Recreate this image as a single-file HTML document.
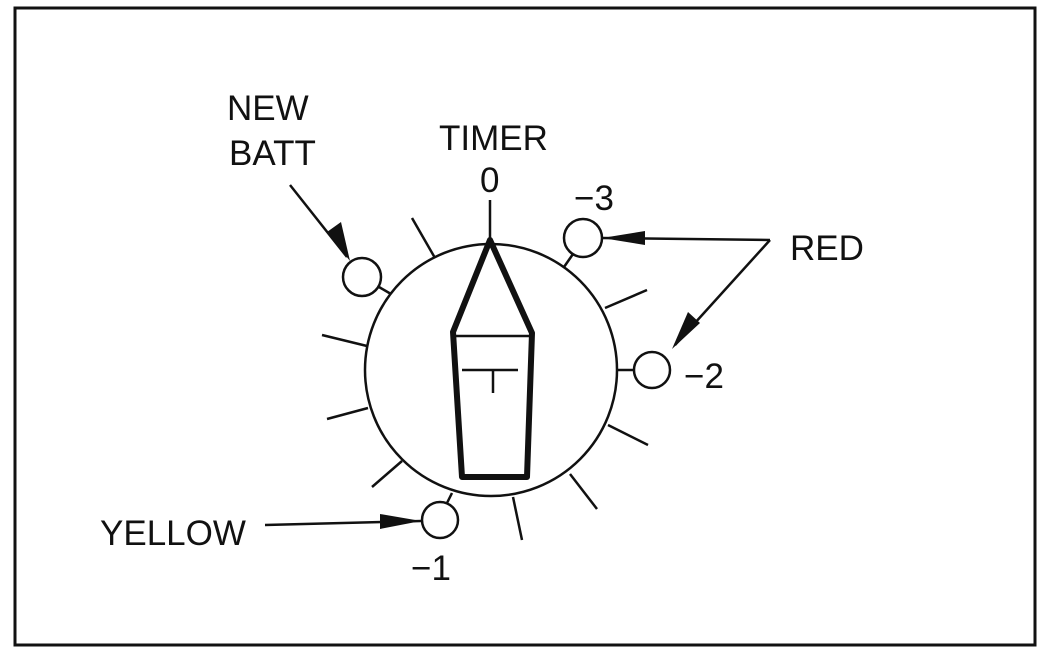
<!DOCTYPE html>
<html><head><style>
html,body{margin:0;padding:0;background:#fff;}
svg{display:block}
text{font-family:"Liberation Sans",sans-serif;font-size:35px;fill:#111;}
</style></head><body>
<svg width="1040" height="650" viewBox="0 0 1040 650" xmlns="http://www.w3.org/2000/svg">
<rect x="15" y="8" width="1020" height="637" fill="none" stroke="#111" stroke-width="3"/>
<g stroke="#111" fill="none" stroke-width="2.5">
<circle cx="491" cy="370" r="126"/>
<line x1="490" y1="200" x2="490" y2="240"/>
<line x1="412" y1="218" x2="435" y2="258"/>
<line x1="647" y1="290" x2="605" y2="308"/>
<line x1="322" y1="335" x2="367" y2="346"/>
<line x1="327" y1="419" x2="368" y2="408"/>
<line x1="372" y1="487" x2="402" y2="461"/>
<line x1="522" y1="540" x2="513" y2="497"/>
<line x1="597" y1="509" x2="570" y2="474"/>
<line x1="648" y1="445" x2="608" y2="425"/>
<circle cx="362" cy="277" r="19"/>
<circle cx="583" cy="238" r="19"/>
<circle cx="652" cy="370" r="18"/>
<circle cx="440" cy="520" r="18"/>
<line x1="379" y1="287" x2="391" y2="294"/>
<line x1="573" y1="254" x2="564" y2="267"/>
<line x1="618" y1="370" x2="634" y2="370"/>
<line x1="452" y1="493" x2="447" y2="503"/>
<line x1="290" y1="185" x2="347" y2="257"/>
<line x1="770" y1="240" x2="602" y2="238"/>
<line x1="770" y1="240" x2="675" y2="345"/>
<line x1="265" y1="525" x2="421" y2="521"/>
</g>
<g fill="#111">
<polygon points="350,261 327,232 341,222"/>
<polygon points="602,238 645,231 645,245"/>
<polygon points="672,349 688,312 700,323"/>
<polygon points="421,521 380,514 380,529"/>
</g>
<g stroke="#111" fill="none" stroke-width="6" stroke-linejoin="round">
<polygon points="490,240 532,333 527,477 462,477 453,332"/>
</g>
<g stroke="#111" stroke-width="2.5">
<line x1="455" y1="336" x2="530" y2="336"/>
<line x1="462" y1="370" x2="518" y2="370"/>
<line x1="493" y1="370" x2="493" y2="393"/>
</g>
<text x="227" y="120">NEW</text>
<text x="229" y="165">BATT</text>
<text x="439" y="150">TIMER</text>
<text x="480" y="192">0</text>
<text x="574" y="210">−3</text>
<text x="790" y="260">RED</text>
<text x="684" y="388">−2</text>
<text x="100" y="545">YELLOW</text>
<text x="411" y="580">−1</text>
</svg>
</body></html>
